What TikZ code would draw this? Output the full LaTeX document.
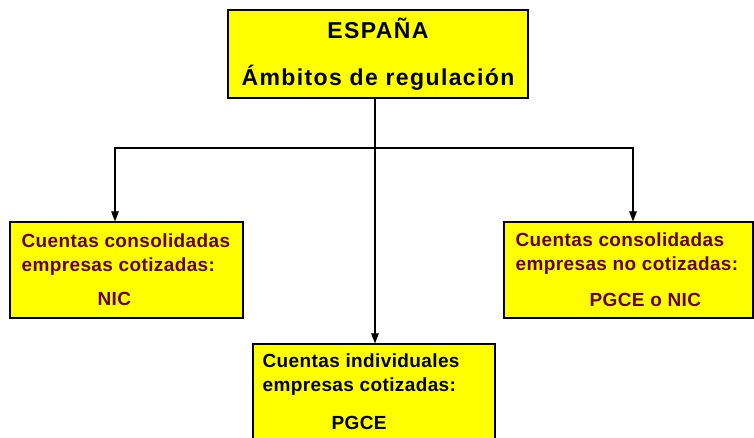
\documentclass[tikz,border=0pt]{standalone}
\usepackage{fontspec}
\newfontfamily\titlefont[LetterSpace=6]{Liberation Sans}
\newfontfamily\boxfont[LetterSpace=2]{Liberation Sans}
\usepackage{tikz}
\usetikzlibrary{positioning, arrows.meta, calc}
\usepackage{xcolor}
\definecolor{regyellow}{RGB}{255,255,0}
\definecolor{regmaroon}{RGB}{102,0,51}

\begin{document}
\begin{tikzpicture}[
    x=1pt, y=1pt,
    regbox/.style={draw=black, line width=1.1pt, fill=regyellow, inner sep=0pt},
    titletext/.style={font=\titlefont\bfseries\fontsize{23}{26}\selectfont, align=center},
    boxtext/.style={font=\boxfont\bfseries\fontsize{19}{24}\selectfont, align=left, inner sep=0pt, anchor=west},
    conn/.style={line width=1.1pt, -{Triangle[length=10pt, width=7.5pt]}}
]
    \useasboundingbox (0,0) rectangle (754,438);

    % Top box: country and scope
    \node[regbox, titletext, minimum width=300, minimum height=88] (esp) at (378,384)
        {ESPAÑA\\[21pt]Ámbitos de regulación};

    % Three regulation boxes
    \node[regbox, minimum width=233, minimum height=96] (nic) at (126.5,168) {};
    \node[regbox, minimum width=249, minimum height=96] (pgnic) at (628.5,168) {};
    \node[regbox, minimum width=242, minimum height=96] (pgce) at (374,46) {};

    % Texts inside the boxes
    \node[boxtext, text=regmaroon] (nictxt) at ([xshift=12pt]nic.west)
        {Cuentas consolidadas\\empresas cotizadas:\\[10pt]\hspace*{76pt}NIC};
    \node[boxtext, text=regmaroon] (pgnictxt) at ([xshift=12pt]pgnic.west)
        {Cuentas consolidadas\\empresas no cotizadas:\\[12pt]\hspace*{74pt}PGCE o NIC};
    \node[boxtext, text=black] (pgcetxt) at ([xshift=10pt]pgce.west)
        {Cuentas individuales\\empresas cotizadas:\\[14pt]\hspace*{69pt}PGCE};

    % Connectors
    \coordinate (split) at ([xshift=-3pt]esp.south |- 0,290);
    \draw[conn] ([xshift=-3pt]esp.south) -- (pgce.north -| split);
    \draw[conn] (split) -| ([xshift=-11.5pt]nic.north);
    \draw[conn] (split) -| ([xshift=4.5pt]pgnic.north);
\end{tikzpicture}
\end{document}
